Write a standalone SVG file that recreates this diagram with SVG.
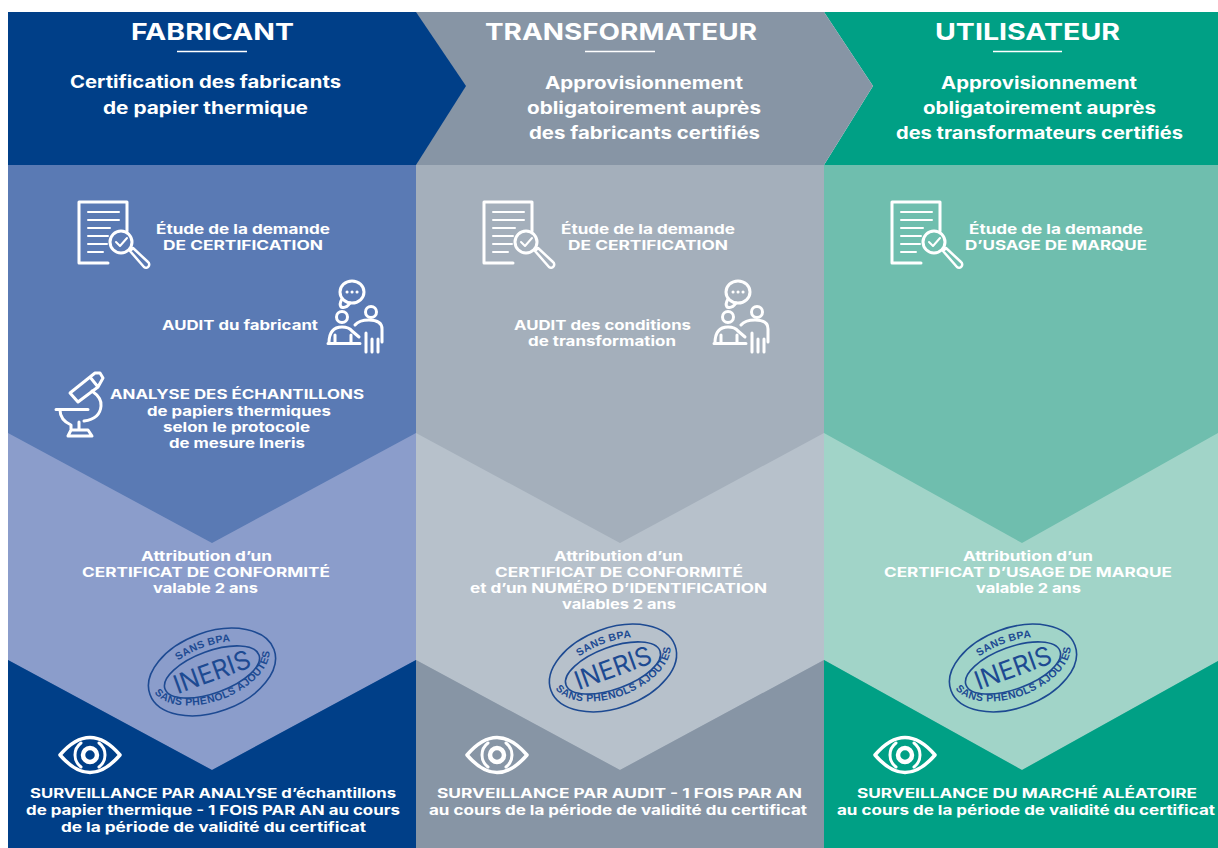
<svg xmlns="http://www.w3.org/2000/svg" xmlns:xlink="http://www.w3.org/1999/xlink" width="1218" height="848" viewBox="0 0 1218 848">
<style>
text{font-family:"Inter","Liberation Sans",sans-serif;font-weight:700;fill:#fff}
.t{font-size:23px}.s{font-size:17px}.b{font-size:13px}.w{font-size:13px}
.ic{fill:none;stroke:#fff;stroke-width:3;stroke-linecap:round;stroke-linejoin:round}
.th{stroke-width:2}
.lg{fill:none;stroke:#1d4a92;stroke-width:1.6}
.lt{fill:#1d4a92;font-family:"Liberation Sans",sans-serif;font-size:10.500px;font-weight:700;letter-spacing:.4px}
.li{fill:#1d4a92;font-size:26px;font-weight:400}
.rule{stroke:#fff;stroke-width:1.400}
</style>
<defs>
<g id="doc" class="ic">
<path d="M108 263H79V202H127V231"/>
<path class="th" d="M88 212H119M88 220H119M88 228H110M88 236H108M88 244H107M88 252H103"/>
<circle cx="121" cy="242" r="11"/>
<path d="M116 242l4 4 7-8" class="th"/>
<path d="M130 251l3-3 15 14a2.500 2.500 0 0 1-4 5z" stroke-width="2.500"/>
</g>
<g id="audit" class="ic">
<ellipse cx="352" cy="292" rx="12" ry="11"/>
<path d="M342 299q-3 5-1 8 5 2 9-4"/>
<path d="M347 292h.1M352 292h.1M357 292h.1"/>
<circle cx="342" cy="317" r="5.500"/>
<circle cx="371" cy="312" r="5.500"/>
<path d="M329 343q0-16 13-16 7 0 10 4l7 6M328 343.500H360M335 343v-8M351 343v-8"/>
<path d="M355 325q4-5 14-5 13 0 13 9v13M366 352V333M372 352V339M378 352V339"/>
</g>
<g id="micro" class="ic">
<path d="M70 393L90 377 98 387 78 402ZM90 377l5-4 5 0 3 5-5 9"/>
<path d="M92 391q10 7 9 15-1 13-17 15"/>
<path d="M56 409.500H88M60 410q0 10 11 15v5M79 422v8M68 436l3-6H88l4 6Z"/>
</g>
<g id="eye" class="ic">
<path d="M-30 0Q0-35 30 0 0 35-30 0Z" stroke-width="3.500"/>
<path d="M-9-12A15 15 0 0 0-9 12M9-12A15 15 0 0 1 9 12"/>
<circle r="7" stroke-width="4.500"/>
</g>
<path id="arcTop" d="M-53 -2A53 24 0 0 1 53 -2"/>
<path id="arcBot" d="M-62 -6A62 35 0 0 0 62 -6"/>
</defs>
<rect width="1218" height="848" fill="#fff"/>

<g id="col3-bg">
<rect x="824" y="165" width="394" height="683" fill="#6fbeae"/>
<polygon points="824,433 1022,543 1218,433 1218,661 1022,770 824,660" fill="#a1d4c8"/>
<polygon points="824,660 1022,770 1218,661 1218,848 824,848" fill="#00a085"/>
<polygon points="824,12 1218,12 1218,165 824,165 873,86" fill="#00a085"/>
</g>
<g id="col2-bg">
<rect x="416" y="165" width="408" height="683" fill="#a4afbb"/>
<polygon points="416,433 620,543 824,433 824,660 620,770 416,660" fill="#b7c1cb"/>
<polygon points="416,660 620,770 824,660 824,848 416,848" fill="#8795a5"/>
<polygon points="416,12 824,12 873,86 824,165 416,165" fill="#8795a5"/>
</g>
<g id="col1-bg">
<rect x="8" y="165" width="408" height="683" fill="#5a7ab4"/>
<polygon points="8,433 212,543 416,433 416,660 212,770 8,660" fill="#8b9dcb"/>
<polygon points="8,660 212,770 416,660 416,848 8,848" fill="#003f88"/>
<polygon points="8,12 416,12 466,86 416,165 8,165" fill="#003f88"/>
</g>

<g id="fabricant">
<text class="t" x="131" y="40" textLength="163" lengthAdjust="spacingAndGlyphs">FABRICANT</text>
<line class="rule" x1="177" y1="51.500" x2="247" y2="51.500"/>
<text class="s" x="70" y="88" textLength="271" lengthAdjust="spacingAndGlyphs">Certification des fabricants</text>
<text class="s" x="103" y="114" textLength="205" lengthAdjust="spacingAndGlyphs">de papier thermique</text>
<use href="#doc" xlink:href="#doc"/>
<text class="b" x="156" y="234" textLength="174" lengthAdjust="spacingAndGlyphs">Étude de la demande</text>
<text class="b" x="163" y="250" textLength="160" lengthAdjust="spacingAndGlyphs">DE CERTIFICATION</text>
<use href="#audit" xlink:href="#audit"/>
<text class="b" x="162" y="330" textLength="156" lengthAdjust="spacingAndGlyphs">AUDIT du fabricant</text>
<use href="#micro" xlink:href="#micro"/>
<text class="b" x="110" y="399" textLength="254" lengthAdjust="spacingAndGlyphs">ANALYSE DES ÉCHANTILLONS</text>
<text class="b" x="147" y="416" textLength="184" lengthAdjust="spacingAndGlyphs">de papiers thermiques</text>
<text class="b" x="163" y="432" textLength="147" lengthAdjust="spacingAndGlyphs">selon le protocole</text>
<text class="b" x="169" y="448" textLength="136" lengthAdjust="spacingAndGlyphs">de mesure Ineris</text>
<text class="b" x="141" y="561" textLength="131" lengthAdjust="spacingAndGlyphs">Attribution d’un</text>
<text class="b" x="82" y="577" textLength="248" lengthAdjust="spacingAndGlyphs">CERTIFICAT DE CONFORMITÉ</text>
<text class="b" x="153" y="593" textLength="105" lengthAdjust="spacingAndGlyphs">valable 2 ans</text>
<g transform="translate(212 672) rotate(-20)">
<ellipse class="lg" rx="66" ry="40"/><ellipse class="lg" rx="50" ry="21"/>
<text class="lt"><textPath href="#arcTop" xlink:href="#arcTop" startOffset="50%" text-anchor="middle">SANS BPA</textPath></text>
<text class="lt"><textPath href="#arcBot" xlink:href="#arcBot" startOffset="50%" text-anchor="middle">SANS PHENOLS AJOUTES</textPath></text>
<text class="li" x="-40" y="9" textLength="80" lengthAdjust="spacingAndGlyphs">INERIS</text>
</g>
<use href="#eye" xlink:href="#eye" x="90" y="755"/>
<text class="w" x="30" y="798" textLength="366" lengthAdjust="spacingAndGlyphs">SURVEILLANCE PAR ANALYSE d’échantillons</text>
<text class="w" x="26" y="815" textLength="374" lengthAdjust="spacingAndGlyphs">de papier thermique - 1 FOIS PAR AN au cours</text>
<text class="w" x="61" y="832" textLength="305" lengthAdjust="spacingAndGlyphs">de la période de validité du certificat</text>
</g>

<g id="transformateur">
<text class="t" x="485" y="40" textLength="272" lengthAdjust="spacingAndGlyphs">TRANSFORMATEUR</text>
<line class="rule" x1="585" y1="51.500" x2="655" y2="51.500"/>
<text class="s" x="545" y="89" textLength="198" lengthAdjust="spacingAndGlyphs">Approvisionnement</text>
<text class="s" x="527" y="114" textLength="234" lengthAdjust="spacingAndGlyphs">obligatoirement auprès</text>
<text class="s" x="529" y="139" textLength="231" lengthAdjust="spacingAndGlyphs">des fabricants certifiés</text>
<use href="#doc" xlink:href="#doc" x="405"/>
<text class="b" x="561" y="234" textLength="174" lengthAdjust="spacingAndGlyphs">Étude de la demande</text>
<text class="b" x="568" y="250" textLength="160" lengthAdjust="spacingAndGlyphs">DE CERTIFICATION</text>
<use href="#audit" xlink:href="#audit" x="386"/>
<text class="b" x="514" y="330" textLength="177" lengthAdjust="spacingAndGlyphs">AUDIT des conditions</text>
<text class="b" x="528" y="346" textLength="148" lengthAdjust="spacingAndGlyphs">de transformation</text>
<text class="b" x="554" y="561" textLength="129" lengthAdjust="spacingAndGlyphs">Attribution d’un</text>
<text class="b" x="495" y="577" textLength="248" lengthAdjust="spacingAndGlyphs">CERTIFICAT DE CONFORMITÉ</text>
<text class="b" x="470" y="593" textLength="297" lengthAdjust="spacingAndGlyphs">et d’un NUMÉRO D’IDENTIFICATION</text>
<text class="b" x="562" y="609" textLength="114" lengthAdjust="spacingAndGlyphs">valables 2 ans</text>
<g transform="translate(613 668) rotate(-20)">
<ellipse class="lg" rx="66" ry="40"/><ellipse class="lg" rx="50" ry="21"/>
<text class="lt"><textPath href="#arcTop" xlink:href="#arcTop" startOffset="50%" text-anchor="middle">SANS BPA</textPath></text>
<text class="lt"><textPath href="#arcBot" xlink:href="#arcBot" startOffset="50%" text-anchor="middle">SANS PHENOLS AJOUTES</textPath></text>
<text class="li" x="-40" y="9" textLength="80" lengthAdjust="spacingAndGlyphs">INERIS</text>
</g>
<use href="#eye" xlink:href="#eye" x="497" y="755"/>
<text class="w" x="437" y="798" textLength="365" lengthAdjust="spacingAndGlyphs">SURVEILLANCE PAR AUDIT - 1 FOIS PAR AN</text>
<text class="w" x="429" y="815" textLength="378" lengthAdjust="spacingAndGlyphs">au cours de la période de validité du certificat</text>
</g>

<g id="utilisateur">
<text class="t" x="935" y="40" textLength="185" lengthAdjust="spacingAndGlyphs">UTILISATEUR</text>
<line class="rule" x1="993" y1="51.500" x2="1062" y2="51.500"/>
<text class="s" x="941" y="89" textLength="196" lengthAdjust="spacingAndGlyphs">Approvisionnement</text>
<text class="s" x="923" y="114" textLength="233" lengthAdjust="spacingAndGlyphs">obligatoirement auprès</text>
<text class="s" x="896" y="139" textLength="287" lengthAdjust="spacingAndGlyphs">des transformateurs certifiés</text>
<use href="#doc" xlink:href="#doc" x="813"/>
<text class="b" x="969" y="234" textLength="174" lengthAdjust="spacingAndGlyphs">Étude de la demande</text>
<text class="b" x="965" y="250" textLength="182" lengthAdjust="spacingAndGlyphs">D’USAGE DE MARQUE</text>
<text class="b" x="963" y="561" textLength="130" lengthAdjust="spacingAndGlyphs">Attribution d’un</text>
<text class="b" x="884" y="577" textLength="288" lengthAdjust="spacingAndGlyphs">CERTIFICAT D’USAGE DE MARQUE</text>
<text class="b" x="976" y="593" textLength="105" lengthAdjust="spacingAndGlyphs">valable 2 ans</text>
<g transform="translate(1013 668) rotate(-20)">
<ellipse class="lg" rx="66" ry="40"/><ellipse class="lg" rx="50" ry="21"/>
<text class="lt"><textPath href="#arcTop" xlink:href="#arcTop" startOffset="50%" text-anchor="middle">SANS BPA</textPath></text>
<text class="lt"><textPath href="#arcBot" xlink:href="#arcBot" startOffset="50%" text-anchor="middle">SANS PHENOLS AJOUTES</textPath></text>
<text class="li" x="-40" y="9" textLength="80" lengthAdjust="spacingAndGlyphs">INERIS</text>
</g>
<use href="#eye" xlink:href="#eye" x="905" y="755"/>
<text class="w" x="857" y="798" textLength="340" lengthAdjust="spacingAndGlyphs">SURVEILLANCE DU MARCHÉ ALÉATOIRE</text>
<text class="w" x="837" y="815" textLength="378" lengthAdjust="spacingAndGlyphs">au cours de la période de validité du certificat</text>
</g>
</svg>
